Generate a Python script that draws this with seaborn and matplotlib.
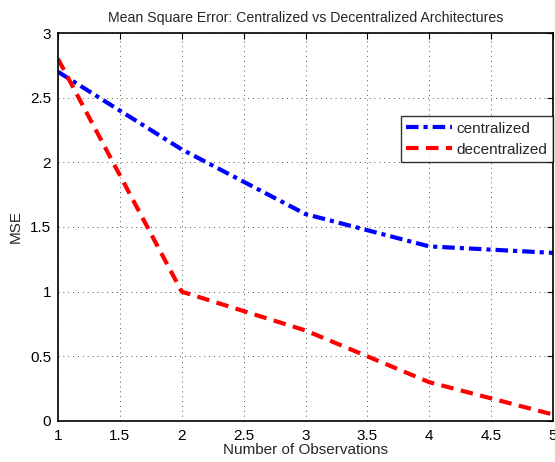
import numpy as np
import pandas as pd
import seaborn as sns
import matplotlib.pyplot as plt

observations = [1, 2, 3, 4, 5]
mse_centralized = [2.7, 2.1, 1.6, 1.35, 1.3]
mse_decentralized = [2.8, 1.0, 0.7, 0.3, 0.05]

df = pd.DataFrame({
    'obs': observations * 2,
    'mse': mse_centralized + mse_decentralized,
    'arch': ['centralized'] * 5 + ['decentralized'] * 5,
})

sns.set_style('white')
plt.rcParams['font.family'] = ['Liberation Sans', 'DejaVu Sans']
plt.rcParams['font.size'] = 11

fig = plt.figure(figsize=(5.55, 4.62), dpi=100)
ax = fig.add_axes([58 / 555, 1 - 421 / 462, 495 / 555, 388 / 462])

sns.lineplot(
    data=df, x='obs', y='mse', hue='arch', style='arch',
    palette={'centralized': '#0000ff', 'decentralized': '#ff0000'},
    dashes={'centralized': (3, 1.2, 1, 1.2), 'decentralized': (3, 1.8)},
    linewidth=3, ax=ax,
)

ax.set_xlim(1, 5)
ax.set_ylim(0, 3)
ax.set_xticks(np.arange(1, 5.01, 0.5))
ax.set_xticklabels(['1', '1.5', '2', '2.5', '3', '3.5', '4', '4.5', '5'])
ax.set_yticks(np.arange(0, 3.01, 0.5))
ax.set_yticklabels(['0', '0.5', '1', '1.5', '2', '2.5', '3'])
ax.grid(True, ls=(0, (1, 4)), color='#555555', lw=0.7)
ax.tick_params(direction='in', top=True, right=True, length=4, width=0.8,
               colors='black', labelsize=11)
ax.tick_params(axis='x', pad=6)
ax.tick_params(axis='y', pad=5)
for s in ax.spines.values():
    s.set_color('black')
    s.set_linewidth(1.2)

ax.set_xlabel('Number of Observations', fontsize=11, labelpad=0)
ax.set_ylabel('MSE', fontsize=11, labelpad=5)
ax.set_title('Mean Square Error: Centralized vs Decentralized Architectures',
             fontsize=10.2, pad=8)

leg = ax.legend(loc='upper right', bbox_to_anchor=(1.0, 0.785), fontsize=11,
                frameon=True, fancybox=False, edgecolor='black',
                borderpad=0.35, handlelength=3.0, handletextpad=0.3,
                labelspacing=0.45, borderaxespad=0)
leg.get_frame().set_linewidth(1.0)

fig.savefig('out.png', dpi=100)
